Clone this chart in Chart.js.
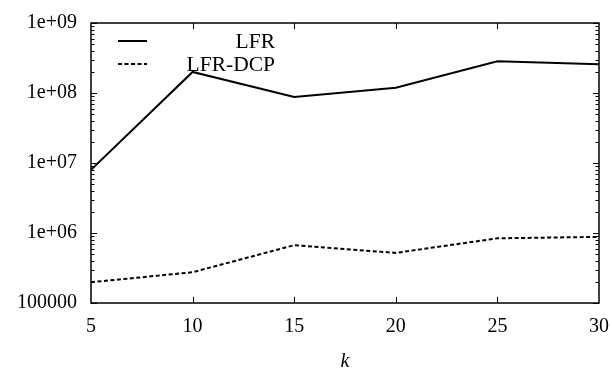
<!DOCTYPE html>
<html>
<head>
<meta charset="UTF-8">
<script src="https://cdn.jsdelivr.net/npm/chart.js"></script>
<style>
  body { margin: 0; padding: 0; background: #fff; }
  #wrap { width: 612px; height: 373px; }
</style>
</head>
<body>
<div id="wrap"><canvas id="c"></canvas></div>
<script>
// values
const kValues = [5, 10, 15, 20, 25, 30];
const lfr = [8.0e6, 2.0e8, 8.8e7, 1.19e8, 2.84e8, 2.57e8];
const lfrDcp = [1.98e5, 2.75e5, 6.7e5, 5.2e5, 8.4e5, 8.8e5];
const yTicks = [1e5, 1e6, 1e7, 1e8, 1e9];
const yTickLabels = ['100000', '1e+06', '1e+07', '1e+08', '1e+09'];
const seriesNames = ['LFR', 'LFR-DCP'];

const FONT = 'Liberation Serif, Times New Roman, serif';

function pts(vals) {
    return kValues.map((k, i) => ({ x: k, y: vals[i] }));
}

// gnuplot-like frame with inward ticks + legend
const framePlugin = {
    id: 'frame',
    afterDatasetsDraw(chart) {
        const ctx = chart.ctx;
        const a = chart.chartArea;
        const xs = chart.scales.x, ys = chart.scales.y;
        ctx.save();
        ctx.strokeStyle = '#000';
        ctx.lineWidth = 1.5;
        ctx.strokeRect(a.left, a.top, a.right - a.left, a.bottom - a.top);

        ctx.lineWidth = 1;
        ctx.beginPath();
        kValues.forEach(k => {
            if (k === 5 || k === 30) return;
            const px = Math.round(xs.getPixelForValue(k)) + 0.5;
            ctx.moveTo(px, a.bottom); ctx.lineTo(px, a.bottom - 6);
            ctx.moveTo(px, a.top); ctx.lineTo(px, a.top + 6);
        });
        for (let d = 5; d <= 9; d++) {
            for (let m = 1; m <= 9; m++) {
                const v = m * Math.pow(10, d);
                if (v > 1e9 || (d === 9 && m > 1)) continue;
                const py = Math.round(ys.getPixelForValue(v)) + 0.5;
                const len = m === 1 ? 6 : 3.5;
                ctx.moveTo(a.left, py); ctx.lineTo(a.left + len, py);
                ctx.moveTo(a.right, py); ctx.lineTo(a.right - len, py);
            }
        }
        ctx.stroke();

        // legend
        ctx.font = '21.5px ' + FONT;
        ctx.fillStyle = '#000';
        ctx.textAlign = 'right';
        ctx.textBaseline = 'middle';
        const rows = [41, 64];
        chart.data.datasets.forEach((ds, i) => {
            ctx.lineWidth = ds.borderWidth;
            ctx.setLineDash(ds.borderDash || []);
            ctx.beginPath();
            ctx.moveTo(118, rows[i]); ctx.lineTo(147, rows[i]);
            ctx.stroke();
            ctx.setLineDash([]);
            ctx.fillText(seriesNames[i], 275, rows[i] + 1);
        });
        ctx.restore();
    }
};

new Chart(document.getElementById('c'), {
    type: 'line',
    data: {
        datasets: [
            { label: seriesNames[0], data: pts(lfr), borderColor: '#000', borderWidth: 2, pointRadius: 0, tension: 0 },
            { label: seriesNames[1], data: pts(lfrDcp), borderColor: '#000', borderWidth: 2, borderDash: [4, 2.5], pointRadius: 0, tension: 0 }
        ]
    },
    options: {
        responsive: true,
        maintainAspectRatio: false,
        animation: false,
        layout: { padding: { top: 23, right: 13, left: 0, bottom: 0 } },
        plugins: { legend: { display: false }, tooltip: { enabled: false } },
        scales: {
            x: {
                type: 'linear',
                min: 5, max: 30,
                grid: { display: false, drawTicks: false },
                border: { display: false },
                afterBuildTicks(s) { s.ticks = kValues.map(v => ({ value: v })); },
                afterFit(s) { s.height = 70; s.paddingLeft = 0; s.paddingRight = 0; },
                ticks: {
                    color: '#000',
                    padding: 14,
                    font: { family: FONT, size: 20, lineHeight: 1 },
                    maxRotation: 0,
                    callback: v => String(v)
                },
                title: {
                    display: true, text: 'k', color: '#000',
                    font: { family: FONT, size: 20, style: 'italic', lineHeight: 1 },
                    padding: { top: 0, bottom: 1 }
                }
            },
            y: {
                type: 'logarithmic',
                min: 1e5, max: 1e9,
                grid: { display: false, drawTicks: false },
                border: { display: false },
                afterBuildTicks(s) { s.ticks = yTicks.map(v => ({ value: v })); },
                afterFit(s) { s.width = 91; s.paddingTop = 0; s.paddingBottom = 0; },
                ticks: {
                    color: '#000',
                    padding: 14,
                    font: { family: FONT, size: 20, lineHeight: 1 },
                    callback: (v) => yTickLabels[yTicks.indexOf(v)]
                }
            }
        }
    },
    plugins: [framePlugin]
});
</script>
</body>
</html>
